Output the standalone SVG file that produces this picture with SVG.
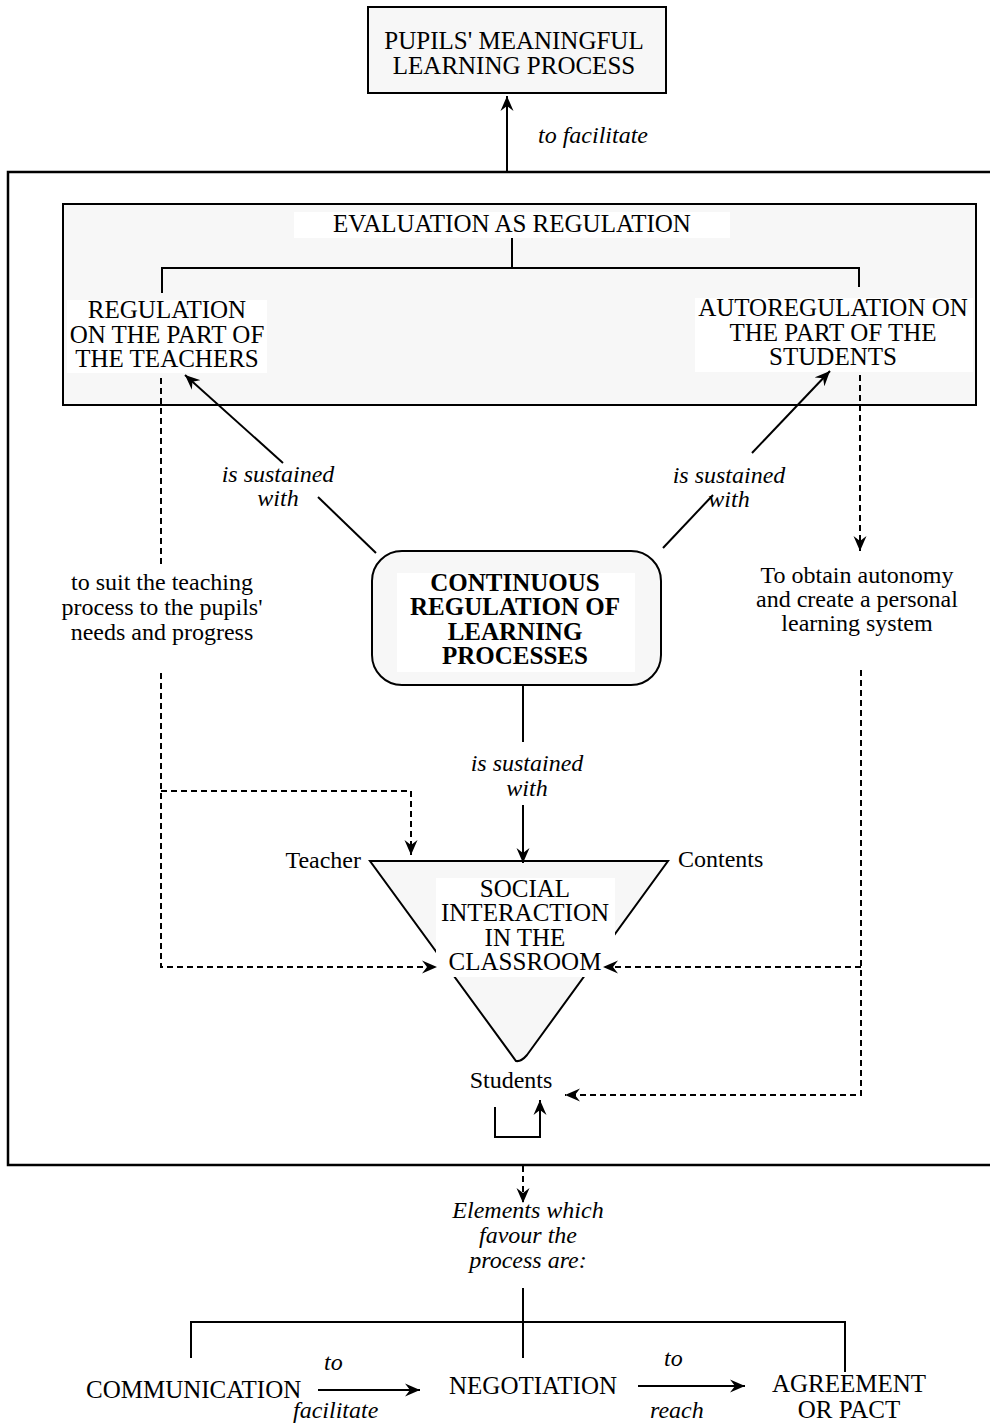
<svg xmlns="http://www.w3.org/2000/svg" width="990" height="1426" viewBox="0 0 990 1426">
<style>
text{font-family:"Liberation Serif","Times New Roman",serif;font-size:24px;fill:#000}
.u{font-size:25px}
.c{text-anchor:middle}
.i{font-style:italic}
.b{font-weight:bold}
.box{fill:#f7f7f7;stroke:#000;stroke-width:2}
.bg{fill:#fff;stroke:none}
.ln{fill:none;stroke:#000;stroke-width:2}
.ds{fill:none;stroke:#000;stroke-width:2;stroke-dasharray:6 4}
</style>
<defs>
<marker id="ah" viewBox="-15 -7 16 14" markerWidth="16" markerHeight="14" refX="0" refY="0" markerUnits="userSpaceOnUse" orient="auto">
<path d="M0,0 L-15,-6.5 L-10,0 L-15,6.5 Z" fill="#000"/>
</marker>
</defs>

<g id="outer-frame">
<rect x="8" y="172" width="1000" height="993" fill="none" stroke="#000" stroke-width="2.5"/>
</g>

<g id="pupils-learning">
<rect class="box" x="368" y="7" width="298" height="86"/>
<text class="c u" x="514" y="49">PUPILS' MEANINGFUL</text>
<text class="c u" x="514" y="74">LEARNING PROCESS</text>
</g>

<g id="evaluation">
<rect class="box" x="63" y="204" width="913" height="201"/>
<rect class="bg" x="294" y="212" width="436" height="26"/>
<text class="c u" x="512" y="232">EVALUATION AS REGULATION</text>
</g>

<g id="regulation-teachers">
<rect class="bg" x="67" y="300" width="200" height="73"/>
<text class="c u" x="167" y="318">REGULATION</text>
<text class="c u" x="167" y="343">ON THE PART OF</text>
<text class="c u" x="167" y="367">THE TEACHERS</text>
</g>

<g id="autoregulation-students">
<rect class="bg" x="695" y="298" width="278" height="74"/>
<text class="c u" x="833" y="316">AUTOREGULATION ON</text>
<text class="c u" x="833" y="341">THE PART OF THE</text>
<text class="c u" x="833" y="365">STUDENTS</text>
</g>

<g id="continuous-regulation">
<rect class="box" x="372" y="551" width="289" height="134" rx="30" ry="30"/>
<rect class="bg" x="397" y="573" width="238" height="99"/>
<text class="c b u" x="515" y="591">CONTINUOUS</text>
<text class="c b u" x="515" y="615">REGULATION OF</text>
<text class="c b u" x="515" y="640">LEARNING</text>
<text class="c b u" x="515" y="664">PROCESSES</text>
</g>

<g id="teaching-process">
<text class="c" x="162" y="590">to suit the teaching</text>
<text class="c" x="162" y="615">process to the pupils'</text>
<text class="c" x="162" y="640">needs and progress</text>
</g>

<g id="autonomy">
<text class="c" x="857" y="583">To obtain autonomy</text>
<text class="c" x="857" y="607">and create a personal</text>
<text class="c" x="857" y="631">learning system</text>
</g>

<g id="social-interaction">
<path class="box" d="M370,861 H668 L527,1055 Q521,1062 516,1061 Z"/>
<rect class="bg" x="436" y="878" width="179" height="99"/>
<text class="c u" x="525" y="897">SOCIAL</text>
<text class="c u" x="525" y="921">INTERACTION</text>
<text class="c u" x="525" y="946">IN THE</text>
<text class="c u" x="525" y="970">CLASSROOM</text>
<text x="361" y="868" text-anchor="end">Teacher</text>
<text x="678" y="867">Contents</text>
<text class="c" x="511" y="1088">Students</text>
</g>

<g id="elements">
<text class="c i" x="528" y="1218">Elements which</text>
<text class="c i" x="528" y="1243">favour the</text>
<text class="c i" x="528" y="1268">process are:</text>
</g>

<g id="communication"><text class="u" x="86" y="1398">COMMUNICATION</text></g>
<g id="negotiation"><text class="u" x="449" y="1394">NEGOTIATION</text></g>
<g id="agreement">
<text class="c u" x="849" y="1392">AGREEMENT</text>
<text class="c u" x="849" y="1418">OR PACT</text>
</g>

<g id="connectors">
<!-- to facilitate -->
<line class="ln" x1="507" y1="172" x2="507" y2="96" marker-end="url(#ah)"/>
<text class="i" x="538" y="143">to facilitate</text>

<!-- evaluation bracket -->
<path class="ln" d="M512,238 V268 M162,293 V268 H858 M859,267 V287"/>

<!-- left sustained -->
<line class="ln" x1="376" y1="553" x2="318" y2="497"/>
<line class="ln" x1="283" y1="463" x2="185" y2="375" marker-end="url(#ah)"/>
<text class="c i" x="278" y="482">is sustained</text>
<text class="c i" x="278" y="506">with</text>

<!-- right sustained -->
<line class="ln" x1="663" y1="548" x2="713" y2="495"/>
<line class="ln" x1="752" y1="453" x2="830" y2="371" marker-end="url(#ah)"/>
<text class="c i" x="729" y="483">is sustained</text>
<text class="c i" x="729" y="507">with</text>

<!-- center sustained -->
<line class="ln" x1="523" y1="685" x2="523" y2="742"/>
<line class="ln" x1="523" y1="805" x2="523" y2="863" marker-end="url(#ah)"/>
<text class="c i" x="527" y="771">is sustained</text>
<text class="c i" x="527" y="796">with</text>

<!-- left dashed -->
<line class="ds" x1="161" y1="378" x2="161" y2="567"/>
<path class="ds" d="M161,673 V967 H437" marker-end="url(#ah)"/>
<path class="ds" d="M161,791 H411 V855" marker-end="url(#ah)"/>

<!-- right dashed -->
<line class="ds" x1="860" y1="375" x2="860" y2="551" marker-end="url(#ah)"/>
<path class="ds" d="M861,670 V1095 H565" marker-end="url(#ah)"/>
<path class="ds" d="M861,967 H603" marker-end="url(#ah)"/>

<!-- self loop -->
<path class="ln" d="M495,1107 V1137 H540 V1100" marker-end="url(#ah)"/>

<!-- down to elements -->
<line class="ds" x1="523" y1="1166" x2="523" y2="1203" marker-end="url(#ah)"/>

<!-- bottom bracket -->
<path class="ln" d="M523,1288 V1358 M191,1358 V1322 H845 V1372"/>

<!-- bottom arrows -->
<line class="ln" x1="318" y1="1390" x2="420" y2="1390" marker-end="url(#ah)"/>
<text class="i" x="324" y="1370">to</text>
<text class="i" x="293" y="1418">facilitate</text>
<line class="ln" x1="638" y1="1386" x2="745" y2="1386" marker-end="url(#ah)"/>
<text class="i" x="664" y="1366">to</text>
<text class="i" x="650" y="1418">reach</text>
</g>
</svg>
